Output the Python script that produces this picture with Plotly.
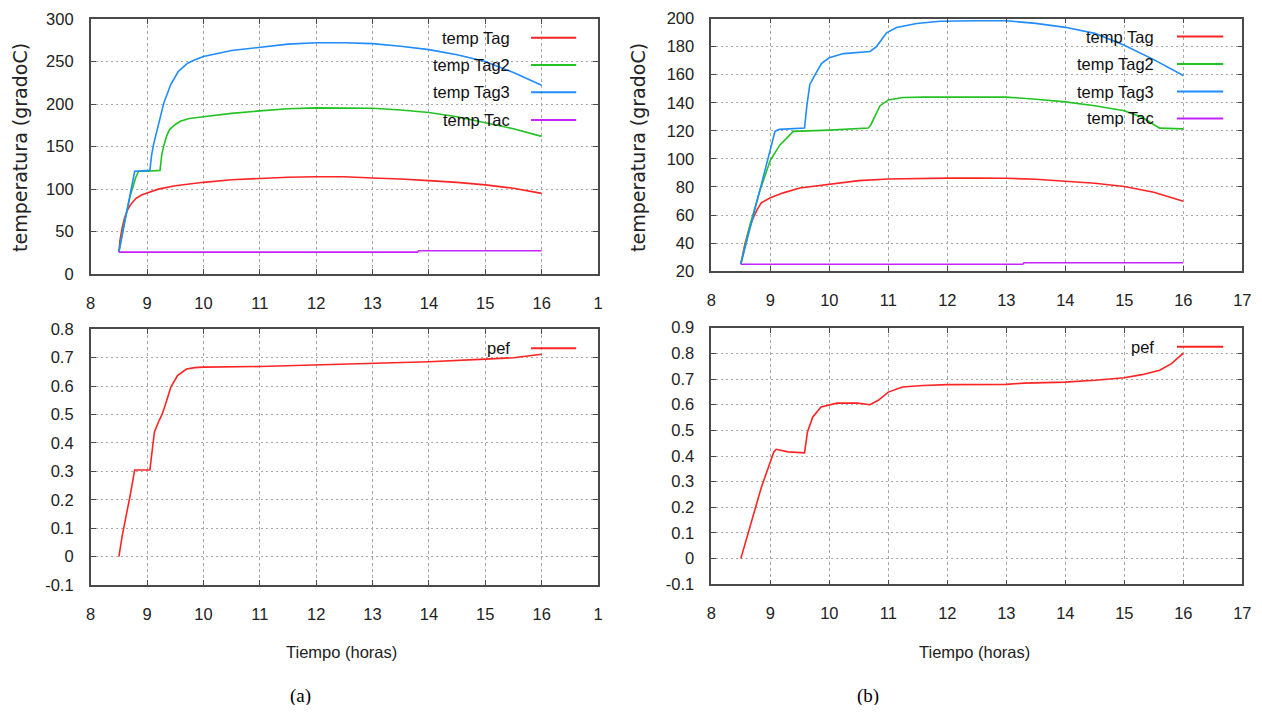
import plotly.graph_objects as go

# ---------------- data (a) ----------------
xa_tag = [8.5, 8.52, 8.56, 8.6, 8.65, 8.7, 8.8, 8.9, 9.0, 9.2, 9.5, 10, 10.5, 11, 11.5, 12, 12.5, 13, 13.5, 14, 14.5, 15, 15.5, 16]
ya_tag = [26, 40, 55, 66, 75, 81, 89, 93, 95.5, 100, 104, 108, 111, 112.5, 114, 114.5, 114.5, 113, 112, 110, 108, 105, 101, 95]

xa_tag2 = [8.5, 8.6, 8.7, 8.8, 8.85, 9.0, 9.23, 9.26, 9.3, 9.35, 9.4, 9.5, 9.6, 9.75, 10, 10.5, 11, 11.5, 12, 12.5, 13, 13.5, 14, 14.5, 15, 15.5, 16]
ya_tag2 = [26, 62, 92, 114, 121, 121, 122, 140, 152, 163, 170, 176, 180, 183, 185, 189, 192, 194.5, 195.5, 195.5, 195, 193, 190, 185, 178, 171, 162]

xa_tag3 = [8.5, 8.78, 9.05, 9.08, 9.12, 9.2, 9.3, 9.42, 9.55, 9.65, 9.72, 9.85, 10, 10.5, 11, 11.5, 12, 12.5, 13, 13.5, 14, 14.5, 15, 15.5, 16]
ya_tag3 = [26, 121, 122, 140, 154, 177, 202, 223, 238, 244, 248, 252, 256, 263, 267, 270.5, 272, 272, 271, 268, 264, 258, 250, 237, 222]

xa_tac = [8.5, 13.8, 13.82, 16]
ya_tac = [26, 26, 27.5, 27.5]

xa_pef = [8.5, 8.56, 8.7, 8.78, 9.05, 9.1, 9.13, 9.2, 9.27, 9.35, 9.42, 9.54, 9.7, 9.85, 10, 11, 12, 13, 14, 15, 15.5, 16]
ya_pef = [0, 0.075, 0.215, 0.305, 0.305, 0.40, 0.438, 0.473, 0.502, 0.55, 0.596, 0.637, 0.66, 0.665, 0.667, 0.669, 0.675, 0.68, 0.686, 0.695, 0.70, 0.712]

# ---------------- data (b) ----------------
xb_tag = [8.5, 8.57, 8.64, 8.71, 8.78, 8.85, 9.0, 9.22, 9.5, 10, 10.5, 11, 11.5, 12, 12.5, 13, 13.5, 14, 14.5, 15, 15.5, 16]
yb_tag = [25, 39.5, 50, 58, 64, 68.8, 72.3, 75.8, 79.3, 82.1, 84.5, 85.7, 86.2, 86.3, 86.3, 86.2, 85.5, 84.3, 82.7, 80.3, 76.3, 69.8]

xb_tag2 = [8.5, 8.66, 8.82, 9.0, 9.16, 9.3, 9.39, 10.0, 10.66, 10.7, 10.75, 10.86, 11.0, 11.25, 11.6, 12, 13, 13.5, 14, 14.5, 15, 15.3, 15.6, 16]
yb_tag2 = [25, 53.6, 77, 99, 109.8, 116, 119.6, 120.5, 122, 124, 128.5, 137.9, 142, 143.7, 144, 144, 144, 142.5, 140.6, 137.8, 134.3, 129.6, 121.9, 121.4]

xb_tag3 = [8.5, 9.08, 9.15, 9.58, 9.62, 9.67, 9.76, 9.87, 10.0, 10.24, 10.69, 10.8, 10.97, 11.14, 11.48, 11.88, 12.5, 13, 13.5, 14, 14.5, 15, 15.5, 16]
yb_tag3 = [25, 119.6, 121, 122, 137.9, 153, 160, 168, 172, 175, 176.5, 180, 189.8, 193.6, 196.4, 198, 198.4, 198.4, 196.5, 193.7, 189.4, 181, 170.7, 159.4]

xb_tac = [8.5, 13.28, 13.3, 16]
yb_tac = [25, 25, 26, 26]

xb_pef = [8.5, 8.61, 8.85, 9.06, 9.1, 9.3, 9.58, 9.63, 9.72, 9.86, 10.0, 10.13, 10.48, 10.69, 10.83, 11.0, 11.24, 11.59, 12, 13, 13.3, 14, 14.5, 15, 15.3, 15.6, 15.8, 16]
yb_pef = [0, 0.091, 0.279, 0.416, 0.426, 0.416, 0.412, 0.494, 0.552, 0.591, 0.6, 0.606, 0.606, 0.6, 0.617, 0.649, 0.669, 0.675, 0.678, 0.679, 0.684, 0.688, 0.695, 0.705, 0.717, 0.734, 0.76, 0.801]

# ---------------- ticks / labels ----------------
x_ticks = list(range(8, 18))
xa_ticktext = ["8", "9", "10", "11", "12", "13", "14", "15", "16", "1"]
xb_ticktext = ["8", "9", "10", "11", "12", "13", "14", "15", "16", "17"]
ya_top_ticks = [0, 50, 100, 150, 200, 250, 300]
yb_top_ticks = [20, 40, 60, 80, 100, 120, 140, 160, 180, 200]
ya_bot_ticks = [-0.1, 0, 0.1, 0.2, 0.3, 0.4, 0.5, 0.6, 0.7, 0.8]
ya_bot_text = ["-0.1", "0", "0.1", "0.2", "0.3", "0.4", "0.5", "0.6", "0.7", "0.8"]
yb_bot_ticks = [-0.1, 0, 0.1, 0.2, 0.3, 0.4, 0.5, 0.6, 0.7, 0.8, 0.9]
yb_bot_text = ["-0.1", "0", "0.1", "0.2", "0.3", "0.4", "0.5", "0.6", "0.7", "0.8", "0.9"]

temp_names = ["temp Tag", "temp Tag2", "temp Tag3", "temp Tac"]
ylabel = "temperatura (gradoC)"
xlabel = "Tiempo (horas)"

RED, GREEN, BLUE, MAG = "#ff2424", "#22c222", "#1f8cff", "#c424ff"
SANS = "Liberation Sans, Arial, sans-serif"
FS = 16.5
OFF = 8            # page body margin
W = 1262 - 2 * OFF
H = 713 - 2 * OFF

fig = go.Figure()

def add(x, y, color, xa, ya):
    fig.add_trace(go.Scatter(x=x, y=y, mode="lines", line=dict(color=color, width=1.6),
                             xaxis=xa, yaxis=ya, showlegend=False, hoverinfo="skip"))

add(xa_tag, ya_tag, RED, "x", "y")
add(xa_tag2, ya_tag2, GREEN, "x", "y")
add(xa_tag3, ya_tag3, BLUE, "x", "y")
add(xa_tac, ya_tac, MAG, "x", "y")
add(xa_pef, ya_pef, RED, "x2", "y2")
add(xb_tag, yb_tag, RED, "x3", "y3")
add(xb_tag2, yb_tag2, GREEN, "x3", "y3")
add(xb_tag3, yb_tag3, BLUE, "x3", "y3")
add(xb_tac, yb_tac, MAG, "x3", "y3")
add(xb_pef, yb_pef, RED, "x4", "y4")

def fx(p):
    return (p - OFF) / W

def fy(p):
    return 1 - (p - OFF) / H

def px_x(a, b):
    return [fx(a), fx(b)]

def px_y(top, bottom):
    return [fy(bottom), fy(top)]

common = dict(showline=True, mirror="allticks", linecolor="#4a4a4a", linewidth=1.6,
              ticks="inside", ticklen=5, tickcolor="#4a4a4a", tickwidth=1,
              showgrid=True, gridcolor="#a8a8a8", gridwidth=1, automargin=False,
              ticklabeloverflow="allow",
              zeroline=False, tickfont=dict(family=SANS, size=FS, color="#222"))
xcommon = dict(common, ticklabelstandoff=13, griddash="3px,3px")
ycommon = dict(common, ticklabelstandoff=12, griddash="2px,3px")

xa_dom = px_x(90.7, 598)
xb_dom = px_x(711.3, 1242.3)

fig.update_layout(
    width=W, height=H, margin=dict(l=0, r=0, t=0, b=0, autoexpand=False),
    paper_bgcolor="white", plot_bgcolor="white", showlegend=False,
    xaxis=dict(domain=xa_dom, range=[8, 17], tickvals=x_ticks, ticktext=xa_ticktext, anchor="y", **xcommon),
    yaxis=dict(domain=px_y(19, 274.2), range=[0, 300], tickvals=ya_top_ticks, anchor="x", **ycommon),
    xaxis2=dict(domain=xa_dom, range=[8, 17], tickvals=x_ticks, ticktext=xa_ticktext, anchor="y2", **xcommon),
    yaxis2=dict(domain=px_y(329.3, 585), range=[-0.1, 0.8], tickvals=ya_bot_ticks, ticktext=ya_bot_text,
                anchor="x2", **ycommon),
    xaxis3=dict(domain=xb_dom, range=[8, 17], tickvals=x_ticks, ticktext=xb_ticktext, anchor="y3", **xcommon),
    yaxis3=dict(domain=px_y(18.5, 271.2), range=[20, 200], tickvals=yb_top_ticks, anchor="x3", **ycommon),
    xaxis4=dict(domain=xb_dom, range=[8, 17], tickvals=x_ticks, ticktext=xb_ticktext, anchor="y4", **xcommon),
    yaxis4=dict(domain=px_y(327.7, 584.3), range=[-0.1, 0.9], tickvals=yb_bot_ticks, ticktext=yb_bot_text,
                anchor="x4", **ycommon),
)

# custom gnuplot-style keys (text right-aligned, line sample on the right)
leg_colors = [RED, GREEN, BLUE, MAG]
leg_y_a = [0.9267, 0.8196, 0.7125, 0.604]
leg_y_b = [0.9285, 0.8203, 0.7109, 0.6043]
for name, col, ya_, yb_ in zip(temp_names, leg_colors, leg_y_a, leg_y_b):
    for xr, yr, tx, x0, x1, yy in (("x", "y", 0.83, 0.868, 0.957, ya_), ("x3", "y3", 0.837, 0.877, 0.964, yb_)):
        fig.add_annotation(text=name, xref=f"{xr} domain", yref=f"{yr} domain", x=tx, y=yy,
                           xanchor="right", yanchor="middle", showarrow=False,
                           font=dict(family=SANS, size=FS, color="#111"))
        fig.add_shape(type="line", xref=f"{xr} domain", yref=f"{yr} domain", x0=x0, x1=x1, y0=yy, y1=yy,
                      line=dict(color=col, width=2))

for xr, yr, tx, x0, x1, yy in (("x2", "y2", 0.83, 0.868, 0.957, 0.9257), ("x4", "y4", 0.837, 0.877, 0.964, 0.926)):
    fig.add_annotation(text="pef", xref=f"{xr} domain", yref=f"{yr} domain", x=tx, y=yy,
                       xanchor="right", yanchor="middle", showarrow=False,
                       font=dict(family=SANS, size=FS, color="#111"))
    fig.add_shape(type="line", xref=f"{xr} domain", yref=f"{yr} domain", x0=x0, x1=x1, y0=yy, y1=yy,
                  line=dict(color=RED, width=2))

# axis titles and panel captions
for cx in (20, 638):
    fig.add_annotation(text=ylabel, xref="paper", yref="paper", x=fx(cx), y=fy(148),
                       textangle=-90, showarrow=False, xanchor="center", yanchor="middle",
                       font=dict(family="DejaVu Sans", size=19, color="#222"))
for cx in (341.6, 975):
    fig.add_annotation(text=xlabel, xref="paper", yref="paper", x=fx(cx), y=fy(652),
                       showarrow=False, xanchor="center", yanchor="middle",
                       font=dict(family=SANS, size=FS, color="#222"))
for cap, cx in (("(a)", 300), ("(b)", 868)):
    fig.add_annotation(text=cap, xref="paper", yref="paper", x=fx(cx), y=fy(696),
                       showarrow=False, xanchor="center", yanchor="middle",
                       font=dict(family="Liberation Serif, Times New Roman, serif", size=19, color="#000"))

fig.write_html("out.html")
